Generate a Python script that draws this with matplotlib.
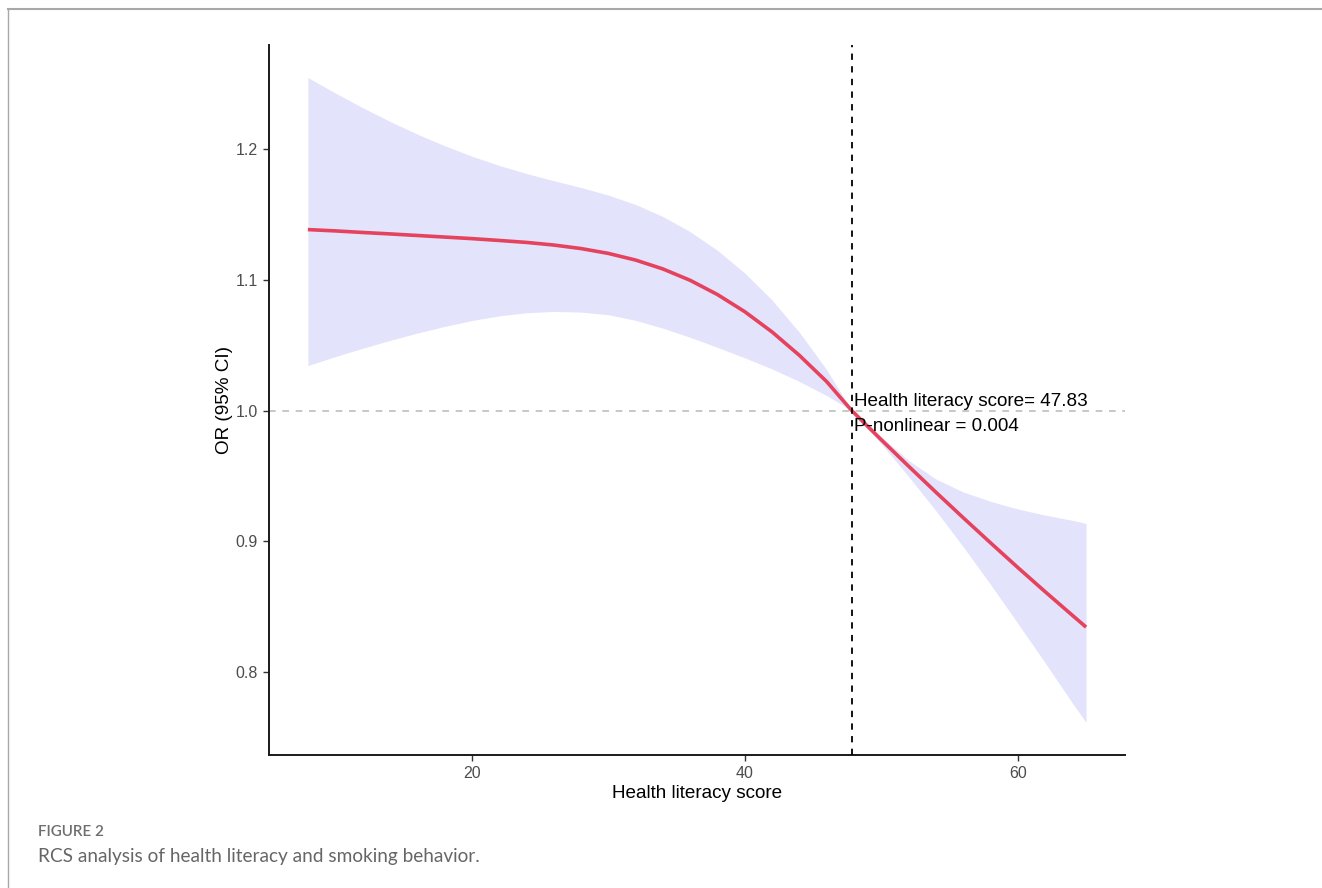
import matplotlib
matplotlib.use("Agg")
import matplotlib.pyplot as plt
from matplotlib.lines import Line2D

# ---- data ----
score = [8, 10, 12, 14, 16, 18, 20, 22, 24, 26, 28, 30, 32, 34, 36, 38, 40,
         42, 44, 46, 47.83, 50, 52, 54, 56, 58, 60, 62, 64, 65]
or_fit = [1.1384, 1.1374, 1.1362, 1.1351, 1.1339, 1.1327, 1.1315, 1.1301,
          1.1286, 1.1266, 1.1239, 1.1202, 1.1151, 1.1083, 1.0996, 1.0887,
          1.0756, 1.0601, 1.0422, 1.0221, 1.0000, 0.9776, 0.9574, 0.9375,
          0.9180, 0.8988, 0.8799, 0.8614, 0.8433, 0.8343]
or_upper = [1.2547, 1.2429, 1.2317, 1.2212, 1.2115, 1.2026, 1.1946, 1.1875,
            1.1813, 1.1758, 1.1706, 1.1648, 1.1576, 1.1484, 1.1368, 1.1225,
            1.1052, 1.0845, 1.0598, 1.0312, 1.0000, 0.9800, 0.9618, 0.9476,
            0.9377, 0.9305, 0.9247, 0.9200, 0.9160, 0.9136]
or_lower = [1.0344, 1.0412, 1.0476, 1.0536, 1.0592, 1.0643, 1.0688, 1.0724,
            1.0748, 1.0758, 1.0753, 1.0733, 1.0690, 1.0630, 1.0560, 1.0483,
            1.0403, 1.0318, 1.0222, 1.0114, 1.0000, 0.9745, 0.9495, 0.9233,
            0.8958, 0.8670, 0.8372, 0.8070, 0.7762, 0.7614]
x_ticks = [20, 40, 60]
y_ticks = [0.8, 0.9, 1.0, 1.1, 1.2]
ref_score = 47.83
p_nonlinear = "0.004"

# ---- figure ----
plt.rcParams["font.family"] = ["Liberation Sans", "DejaVu Sans"]
W, H = 1322, 888
fig = plt.figure(figsize=(W / 100, H / 100), dpi=100)

ax = fig.add_axes([269 / W, 1 - 755 / H, (1125 - 269) / W, (755 - 45) / H])
ax.fill_between(score, or_lower, or_upper, color="#E3E3FC", linewidth=0, zorder=1)
ax.plot(score, or_fit, color="#E5435D", linewidth=2.6, zorder=3,
        solid_capstyle="butt", solid_joinstyle="round")
ax.axhline(1.0, color="#BDBDBD", linestyle=(0, (4, 4)), linewidth=1.2, zorder=2)
ax.axvline(ref_score, color="black", linestyle=(0, (3.5, 3.5)), linewidth=1.3, zorder=4)

ax.text(ref_score + 0.2, 1.0069, f"Health literacy score= {ref_score:.2f}",
        fontsize=13.6, ha="left", va="center", color="black", zorder=5)
ax.text(ref_score + 0.2, 0.9878, f"P-nonlinear = {p_nonlinear}",
        fontsize=13.6, ha="left", va="center", color="black", zorder=5)

ax.set_xlim(5.15, 67.85)
ax.set_ylim(0.7365, 1.2796)
ax.set_xticks(x_ticks)
ax.set_xticklabels([str(t) for t in x_ticks])
ax.set_yticks(y_ticks)
ax.set_yticklabels([f"{t:.1f}" for t in y_ticks])
ax.tick_params(axis="both", length=4, width=1.0, color="#333333",
               labelcolor="#4D4D4D", labelsize=11.5, pad=4)
for s in ["top", "right"]:
    ax.spines[s].set_visible(False)
for s in ["left", "bottom"]:
    ax.spines[s].set_linewidth(1.4)
    ax.spines[s].set_color("#1a1a1a")

ax.set_xlabel("Health literacy score", fontsize=13.6, labelpad=3)
ax.set_ylabel("OR (95% CI)", fontsize=13.6, labelpad=2)

# ---- page frame and caption ----
fig.add_artist(Line2D([8 / W, 1.0], [1 - 9 / H, 1 - 9 / H], transform=fig.transFigure,
                      color="#A8A8A8", linewidth=1.5))
fig.add_artist(Line2D([8 / W, 8 / W], [0.0, 1 - 9 / H], transform=fig.transFigure,
                      color="#A8A8A8", linewidth=1.0))
fig.text(38 / W, 1 - 832 / H, "FIGURE 2", fontsize=11, family=["Lato", "DejaVu Sans"],
         color="#6E6E6E", ha="left", va="center", fontweight="semibold")
fig.text(38 / W, 1 - 856 / H, "RCS analysis of health literacy and smoking behavior.",
         fontsize=13.7, family=["Lato", "DejaVu Sans"], color="#666666",
         ha="left", va="center")

fig.savefig("out.png", dpi=100)
